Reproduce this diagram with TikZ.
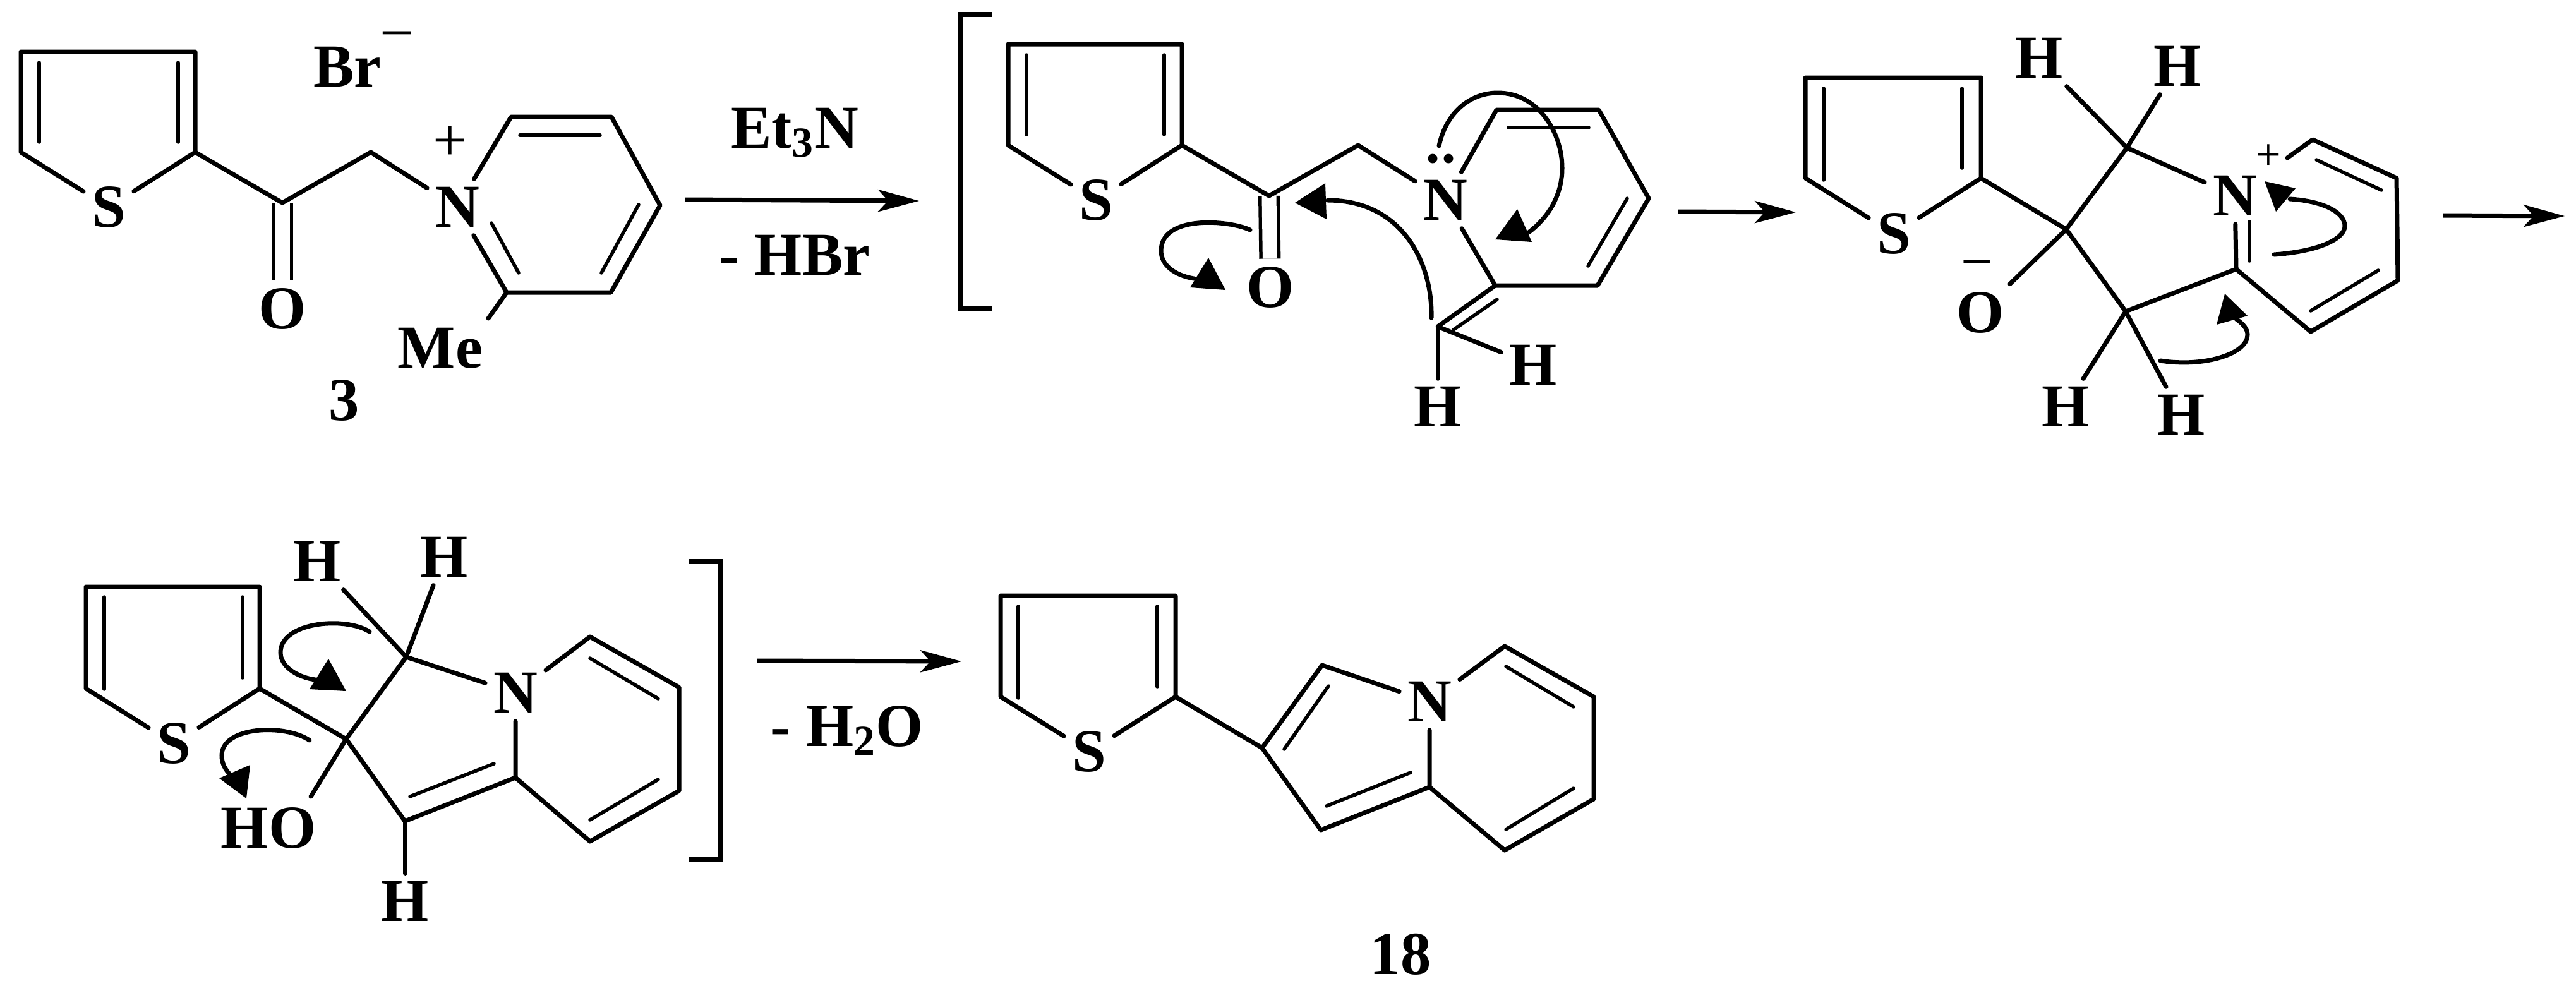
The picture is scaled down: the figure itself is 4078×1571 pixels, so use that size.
\documentclass[tikz,border=0pt]{standalone}
\usepackage{fontspec}
\setmainfont{Liberation Serif}
\usetikzlibrary{arrows.meta}
\tikzstyle{atom} = [font=\fontsize{27.5}{30}\selectfont\bfseries, inner sep=3.5pt]
\tikzstyle{reagent} = [font=\fontsize{27.5}{30}\selectfont\bfseries, inner sep=0pt, anchor=base]
\tikzstyle{charge} = [font=\fontsize{27.5}{30}\selectfont, inner sep=0pt]
\tikzstyle{dot} = [circle, fill=black, inner sep=0pt, minimum size=1.5mm]
\tikzstyle{bond} = [line width=0.7mm, line cap=round, line join=round]
\tikzstyle{inner} = [line width=0.55mm, line cap=round]
\tikzstyle{dbl} = [line width=0.55mm, line cap=butt, double, double distance=2.3mm]
\tikzstyle{arrow} = [line width=0.7mm, -{Stealth[length=6.5mm, width=3.5mm, inset=1.6mm]}]
\tikzstyle{curve} = [line width=0.7mm, line cap=round]
\tikzstyle{head} = [fill=black]
\tikzstyle{bracket} = [line width=0.75mm, line join=miter]

\begin{document}
\begin{tikzpicture}[x=0.1mm, y=-0.1mm]
    \useasboundingbox [fill=white] (0,0) rectangle (4078,1571);

    % Compound 3
    \node (sa) [atom] at (172,328) {S};
    \node (oa) [atom] at (447,489) {O};
    \node (na) [atom] at (724,328) {N};
    \node (mea) [atom, inner sep=0pt] at (697,551) {Me};
    \node (numa) [atom] at (545,634) {3};
    \node (bra) [atom] at (550,106) {Br};
    \node (minusa) [charge] at (629,67) {−};
    \node (plusa) [charge] at (713,227) {+};
    \coordinate (a1) at (33,241); \coordinate (a2) at (33,82); \coordinate (a3) at (309,82); \coordinate (a4) at (309,241);
    \coordinate (a5) at (447,321); \coordinate (a6) at (587,241);
    \coordinate (a7) at (809,185); \coordinate (a8) at (968,185); \coordinate (a9) at (1045,325); \coordinate (a10) at (967,463); \coordinate (a11) at (802,463);
    \coordinate (mebond) at (773,504);
    \draw [dbl] (a5) -- (oa);
    \draw [bond] (sa) -- (a1) -- (a2) -- (a3) -- (a4) -- (sa);
    \draw [bond] (a4) -- (a5) -- (a6) -- (na);
    \draw [bond] (na) -- (a7) -- (a8) -- (a9) -- (a10) -- (a11) -- (na);
    \draw [bond] (a11) -- (mebond);
    \draw [inner] (62,99) -- (62,225);
    \draw [inner] (282,99) -- (282,225);
    \draw [inner] (823,214) -- (950,214);
    \draw [inner] (1011,324) -- (952,432);
    \draw [inner] (778,353) -- (821,432);

    % First arrow
    \coordinate (r1) at (1084,316); \coordinate (r2) at (1455,318);
    \draw [arrow] (r1) -- (r2);
    \node (et3n) [reagent] at (1258,234) {Et\textsubscript{3}N};
    \node (hbr) [reagent] at (1258,435) {- HBr};

    % Left bracket
    \coordinate (bl1) at (1570,23); \coordinate (bl2) at (1521,23); \coordinate (bl3) at (1521,488); \coordinate (bl4) at (1570,488);
    \draw [bracket] (bl1) -- (bl2) -- (bl3) -- (bl4);

    % Ylide
    \node (sb) [atom] at (1735,317) {S};
    \node (ob) [atom] at (2011,455) {O};
    \node (nb) [atom] at (2288,317) {N};
    \node (hb1) [atom] at (2427,578) {H};
    \node (hb2) [atom] at (2276,644) {H};
    \node (lp1) [dot] at (2268,251) {};
    \node (lp2) [dot] at (2293,251) {};
    \coordinate (b1) at (1596,230); \coordinate (b2) at (1596,70); \coordinate (b3) at (1871,70); \coordinate (b4) at (1871,230);
    \coordinate (b5) at (2009,310); \coordinate (b6) at (2150,230);
    \coordinate (b7) at (2369,174); \coordinate (b8) at (2531,174); \coordinate (b9) at (2610,314); \coordinate (b10) at (2529,452); \coordinate (b11) at (2367,452); \coordinate (b12) at (2276,517);
    \draw [dbl] (b5) -- (ob);
    \draw [bond] (sb) -- (b1) -- (b2) -- (b3) -- (b4) -- (sb);
    \draw [bond] (b4) -- (b5) -- (b6) -- (nb);
    \draw [bond] (nb) -- (b7) -- (b8) -- (b9) -- (b10) -- (b11) -- (nb);
    \draw [bond] (b11) -- (b12) -- (hb1);
    \draw [bond] (b12) -- (hb2);
    \draw [inner] (1625,87) -- (1625,213);
    \draw [inner] (1843,87) -- (1843,213);
    \draw [inner] (2388,202) -- (2515,202);
    \draw [inner] (2576,314) -- (2514,421);
    \draw [inner] (2370,474) -- (2301,522);
    \draw [curve] (2278,231) .. controls (2290,175) and (2330,147) .. (2371,147) .. controls (2435,147) and (2473,210) .. (2473,266) .. controls (2473,310) and (2450,345) .. (2421,367);
    \fill [head] (2402,331) -- (2367,379) -- (2425,383) -- cycle;
    \draw [curve] (1979,364) .. controls (1945,348) and (1838,340) .. (1838,397) .. controls (1838,420) and (1860,436) .. (1890,441);
    \fill [head] (1913,408) -- (1884,455) -- (1940,459) -- cycle;
    \draw [curve] (2266,503) .. controls (2268,410) and (2215,317) .. (2102,317);
    \fill [head] (2098,290) -- (2050,321) -- (2100,347) -- cycle;

    % Second arrow
    \coordinate (r3) at (2657,335); \coordinate (r4) at (2843,336);
    \draw [arrow] (r3) -- (r4);

    % Cyclised cation
    \node (sc) [atom] at (2998,370) {S};
    \node (oc) [atom] at (3135,495) {O};
    \node (nc) [atom] at (3538,310) {N};
    \node (hc1) [atom] at (3228,92) {H};
    \node (hc2) [atom] at (3447,105) {H};
    \node (hc3) [atom] at (3270,644) {H};
    \node (hc4) [atom] at (3453,657) {H};
    \node (minusc) [charge, font=\fontsize{23}{25}\selectfont\bfseries] at (3130,423) {–};
    \node (plusc) [charge, font=\fontsize{20}{22}\selectfont] at (3591,249) {+};
    \coordinate (c1) at (2858,282); \coordinate (c2) at (2858,123); \coordinate (c3) at (3136,123); \coordinate (c4) at (3136,282);
    \coordinate (c5) at (3271,363); \coordinate (c6) at (3367,234); \coordinate (c7) at (3365,493); \coordinate (c8) at (3540,426);
    \coordinate (c9) at (3658,525); \coordinate (c10) at (3796,444); \coordinate (c11) at (3794,282); \coordinate (c12) at (3661,221); \coordinate (c13) at (3621,250);
    \draw [bond] (sc) -- (c1) -- (c2) -- (c3) -- (c4) -- (sc);
    \draw [bond] (c4) -- (c5) -- (c6) -- (nc);
    \draw [bond] (c5) -- (c7) -- (c8) -- (nc);
    \draw [bond] (c8) -- (c9) -- (c10) -- (c11) -- (c12) -- (c13);
    \draw [bond] (c5) -- (oc);
    \draw [bond] (c6) -- (hc1);
    \draw [bond] (c6) -- (hc2);
    \draw [bond] (c7) -- (hc3);
    \draw [bond] (c7) -- (hc4);
    \draw [inner] (2887,140) -- (2887,285);
    \draw [inner] (3106,140) -- (3106,266);
    \draw [inner] (3561,351) -- (3561,413);
    \draw [inner] (3667,253) -- (3770,301);
    \draw [inner] (3765,428) -- (3658,492);
    \draw [curve] (3600,403) .. controls (3680,397) and (3712,375) .. (3712,358) .. controls (3712,335) and (3675,318) .. (3625,315);
    \fill [head] (3585,287) -- (3634,298) -- (3603,335) -- cycle;
    \draw [curve] (3420,571) .. controls (3490,582) and (3558,560) .. (3558,530) .. controls (3558,520) and (3550,512) .. (3540,505);
    \fill [head] (3522,465) -- (3558,500) -- (3509,514) -- cycle;

    % Third arrow
    \coordinate (r5) at (3868,341); \coordinate (r6) at (4060,342);
    \draw [arrow] (r5) -- (r6);

    % Neutral alcohol
    \node (sd) [atom] at (275,1177) {S};
    \node (nd) [atom] at (816,1097) {N};
    \node (hod) [atom] at (425,1311) {HO};
    \node (hd1) [atom] at (502,889) {H};
    \node (hd2) [atom] at (703,882) {H};
    \node (hd3) [atom] at (641,1427) {H};
    \coordinate (d1) at (136,1090); \coordinate (d2) at (136,929); \coordinate (d3) at (411,929); \coordinate (d4) at (411,1090);
    \coordinate (d5) at (548,1170); \coordinate (d6) at (643,1040); \coordinate (d7) at (641,1300); \coordinate (d8) at (816,1231);
    \coordinate (d9) at (934,1332); \coordinate (d10) at (1075,1252); \coordinate (d11) at (1075,1088); \coordinate (d12) at (934,1008);
    \coordinate (hobond) at (492,1261);
    \draw [bond] (sd) -- (d1) -- (d2) -- (d3) -- (d4) -- (sd);
    \draw [bond] (d4) -- (d5) -- (d6) -- (nd);
    \draw [bond] (d5) -- (d7) -- (d8) -- (nd);
    \draw [bond] (d8) -- (d9) -- (d10) -- (d11) -- (d12) -- (nd);
    \draw [bond] (d5) -- (hobond);
    \draw [bond] (d6) -- (hd1);
    \draw [bond] (d6) -- (hd2);
    \draw [bond] (d7) -- (hd3);
    \draw [inner] (165,945) -- (165,1091);
    \draw [inner] (384,945) -- (384,1073);
    \draw [inner] (782,1209) -- (649,1261);
    \draw [inner] (934,1042) -- (1042,1106);
    \draw [inner] (1042,1234) -- (934,1298);
    \draw [curve] (585,1000) .. controls (545,975) and (444,985) .. (444,1033) .. controls (444,1055) and (470,1072) .. (499,1076);
    \fill [head] (520,1043) -- (490,1091) -- (548,1094) -- cycle;
    \draw [curve] (490,1172) .. controls (450,1145) and (351,1150) .. (351,1196) .. controls (351,1208) and (356,1218) .. (365,1227);
    \fill [head] (396,1211) -- (347,1232) -- (390,1264) -- cycle;

    % Right bracket
    \coordinate (br1) at (1091,889); \coordinate (br2) at (1140,889); \coordinate (br3) at (1140,1361); \coordinate (br4) at (1091,1361);
    \draw [bracket] (br1) -- (br2) -- (br3) -- (br4);

    % Fourth arrow
    \coordinate (r7) at (1198,1046); \coordinate (r8) at (1522,1047);
    \draw [arrow] (r7) -- (r8);
    \node (water) [reagent] at (1341,1181) {- H\textsubscript{2}O};

    % Compound 18
    \node (se) [atom] at (1724,1190) {S};
    \node (ne) [atom] at (2263,1111) {N};
    \node (nume) [atom] at (2217,1511) {18};
    \coordinate (e1) at (1584,1103); \coordinate (e2) at (1584,943); \coordinate (e3) at (1861,943); \coordinate (e4) at (1861,1103);
    \coordinate (e5) at (1998,1184); \coordinate (e6) at (2093,1053); \coordinate (e7) at (2091,1314); \coordinate (e8) at (2263,1246);
    \coordinate (e9) at (2382,1346); \coordinate (e10) at (2523,1265); \coordinate (e11) at (2523,1103); \coordinate (e12) at (2382,1023);
    \draw [bond] (se) -- (e1) -- (e2) -- (e3) -- (e4) -- (se);
    \draw [bond] (e4) -- (e5) -- (e6) -- (ne);
    \draw [bond] (e5) -- (e7) -- (e8) -- (ne);
    \draw [bond] (e8) -- (e9) -- (e10) -- (e11) -- (e12) -- (ne);
    \draw [inner] (1612,960) -- (1612,1105);
    \draw [inner] (1832,960) -- (1832,1087);
    \draw [inner] (2103,1086) -- (2033,1186);
    \draw [inner] (2233,1223) -- (2100,1276);
    \draw [inner] (2384,1055) -- (2491,1119);
    \draw [inner] (2491,1248) -- (2384,1313);

\end{tikzpicture}
\end{document}
